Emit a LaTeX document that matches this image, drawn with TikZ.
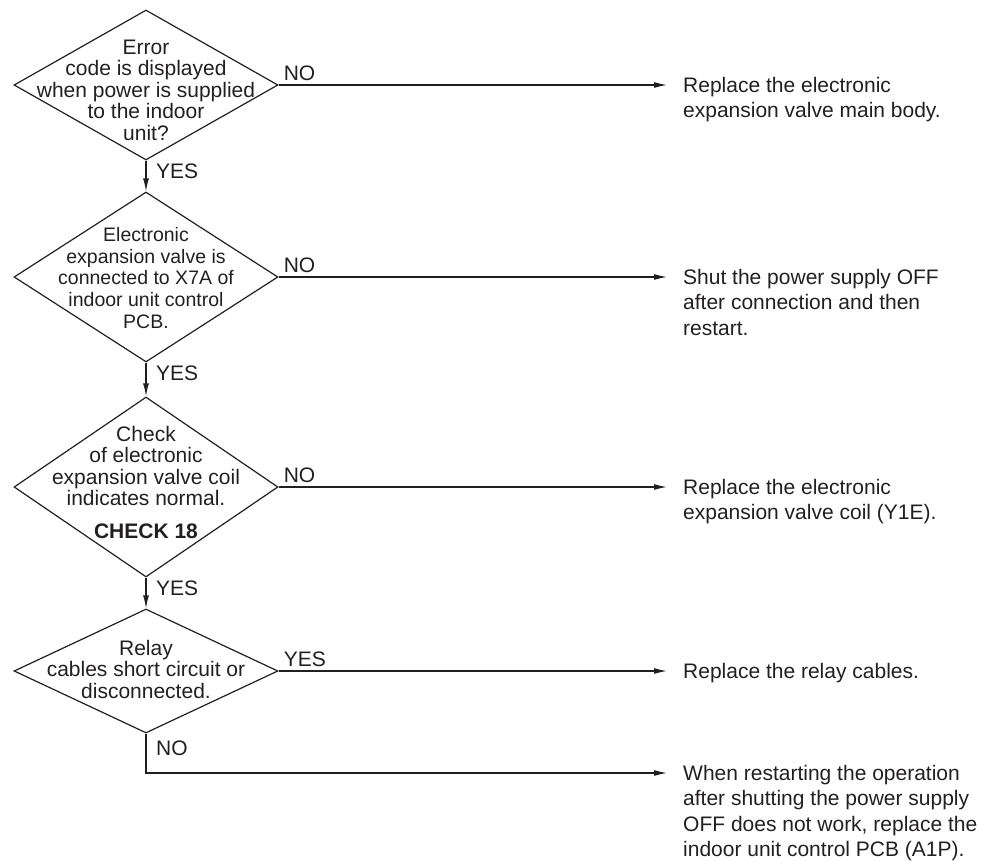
\documentclass[tikz,border=0pt]{standalone}
\usepackage{fontspec}
\setmainfont{Liberation Sans}
\usetikzlibrary{shapes.geometric, arrows.meta, positioning}
\definecolor{ink}{HTML}{231F20}

\begin{document}
\begin{tikzpicture}[
        x=1pt, y=-1pt,
        font=\fontsize{21}{25.5}\selectfont,
        every node/.style={text=ink},
        decision/.style={diamond, draw=ink, line width=1.2pt, inner sep=0pt, minimum width=264pt},
        qtext/.style={align=center, inner sep=0pt, font=\fontsize{21}{21.5}\selectfont},
        result/.style={anchor=north west, align=left, inner sep=0pt, yshift=8pt},
        lbl/.style={inner sep=0pt},
        arrow/.style={-{Latex[length=13pt, width=6pt]}, draw=ink, line width=1.2pt}
    ]
    \useasboundingbox (0,0) rectangle (989,861);

    % Decisions
    \node[decision, minimum height=150pt] (d1) at (146, 85) {};
    \node[decision, minimum height=170pt] (d2) at (146, 277) {};
    \node[decision, minimum height=180pt] (d3) at (146, 487) {};
    \node[decision, minimum height=124pt] (d4) at (146, 671) {};

    % Question texts
    \node[qtext] (q1) at (146, 90) {Error\\code is displayed\\when power is supplied\\to the indoor\\unit?};
    \node[qtext, font=\fontsize{19.5}{21.8}\selectfont] (q2) at (146, 278) {Electronic\\expansion valve is\\connected to X7A of\\indoor unit control\\PCB.};
    \node[qtext] (q3) at (146, 482) {Check\\of electronic\\expansion valve coil\\indicates normal.\\[11pt]\textbf{CHECK 18}};
    \node[qtext] (q4) at (146, 669) {Relay\\cables short circuit or\\disconnected.};

    % Results
    \node[result] (r1) at (d1.east -| 683, 0) {Replace the electronic\\expansion valve main body.};
    \node[result] (r2) at (d2.east -| 683, 0) {Shut the power supply OFF\\after connection and then\\restart.};
    \node[result] (r3) at (d3.east -| 683, 0) {Replace the electronic\\expansion valve coil (Y1E).};
    \node[result] (r4) at (d4.east -| 683, 0) {Replace the relay cables.};
    \coordinate (k5) at (683, 773);
    \node[result] (r5) at (k5) {When restarting the operation\\after shutting the power supply\\OFF does not work, replace the\\indoor unit control PCB (A1P).};

    % YES path
    \draw[arrow] (d1.south) -- (d2.north);
    \draw[arrow] (d2.south) -- (d3.north);
    \draw[arrow] (d3.south) -- (d4.north);
    \node[lbl, anchor=north west, xshift=10pt, yshift=-3pt] (y1) at (d1.south) {YES};
    \node[lbl, anchor=north west, xshift=10pt, yshift=-3pt] (y2) at (d2.south) {YES};
    \node[lbl, anchor=north west, xshift=10pt, yshift=-3pt] (y3) at (d3.south) {YES};

    % Side branches
    \draw[arrow, shorten >=16pt] (d1.east) -- (d1.east -| r1.west);
    \draw[arrow, shorten >=16pt] (d2.east) -- (d2.east -| r2.west);
    \draw[arrow, shorten >=16pt] (d3.east) -- (d3.east -| r3.west);
    \draw[arrow, shorten >=16pt] (d4.east) -- (d4.east -| r4.west);
    \draw[arrow, shorten >=16pt] (d4.south) |- (k5);
    \node[lbl, anchor=south west, xshift=5pt, yshift=4pt] (n1) at (d1.east) {NO};
    \node[lbl, anchor=south west, xshift=5pt, yshift=4pt] (n2) at (d2.east) {NO};
    \node[lbl, anchor=south west, xshift=5pt, yshift=4pt] (n3) at (d3.east) {NO};
    \node[lbl, anchor=south west, xshift=5pt, yshift=4pt] (y4) at (d4.east) {YES};
    \node[lbl, anchor=west, xshift=10pt] (n4) at (d4.south |- 0, 748) {NO};

\end{tikzpicture}
\end{document}
